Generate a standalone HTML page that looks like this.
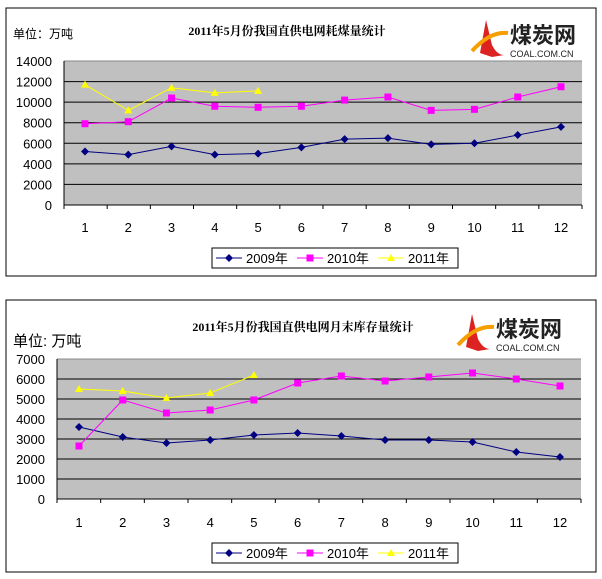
<!DOCTYPE html>
<html><head><meta charset="utf-8"><style>
body{margin:0;background:#fff;width:602px;height:579px;overflow:hidden}
svg{display:block;font-family:"Liberation Sans","Noto Sans CJK SC",sans-serif}
</style></head><body>
<svg id="s" width="602" height="579" xmlns="http://www.w3.org/2000/svg"></svg>
<script>
const S=document.getElementById('s');let h='';
function chart(o){
 const {oy,top,bot,left,right,x1,x12,max,step,d,title,tx,unit,ufs,uy,logo}=o;
 h+=`<rect x="6" y="${oy}" width="590" height="${o.ob-oy}" fill="#fff" stroke="#000"/>`;
 h+=`<rect x="${left}" y="${top}" width="${right-left}" height="${bot-top}" fill="#c0c0c0"/>`;
 const Y=v=>bot-(bot-top)*v/max, sp=(x12-x1)/11, X=i=>x1+sp*i;
 for(let v=0;v<=max;v+=step){const y=Y(v);
  if(v>0&&v<max)h+=`<line x1="${left}" x2="${right}" y1="${y}" y2="${y}" stroke="#000"/>`;
  h+=`<text x="${left-12}" y="${y+5}" font-size="13" text-anchor="end">${v}</text>`;}
 h+=`<line x1="${left}" x2="${right}" y1="${top}" y2="${top}" stroke="#888"/>`;
 h+=`<line x1="${left}" x2="${left}" y1="${top}" y2="${bot}" stroke="#000"/><line x1="${left}" x2="${right}" y1="${bot}" y2="${bot}" stroke="#000"/>`;
 for(let i=0;i<=12;i++){const x=left+(right-left)*i/12;h+=`<line x1="${x}" x2="${x}" y1="${bot}" y2="${bot+4}" stroke="#000"/>`;}
 for(let i=0;i<12;i++)h+=`<text x="${X(i)}" y="${o.ly}" font-size="13" text-anchor="middle">${i+1}</text>`;
 const cols=['#000080','#ff00ff','#ffff00'];
 d.forEach((s,k)=>{h+=`<polyline fill="none" stroke="${cols[k]}" stroke-width="1" points="${s.map((v,i)=>X(i)+','+Y(v)).join(' ')}"/>`;
  s.forEach((v,i)=>h+=mk(k,X(i),Y(v)));});
 function mk(k,x,y){if(k==0)return `<polygon points="${x},${y-4} ${x+4},${y} ${x},${y+4} ${x-4},${y}" fill="#000080"/>`;
  if(k==1)return `<rect x="${x-3.5}" y="${y-3.5}" width="7" height="7" fill="#ff00ff"/>`;
  return `<polygon points="${x},${y-4} ${x+4},${y+3} ${x-4},${y+3}" fill="#ffff00"/>`;}
 const ly=o.lgy;h+=`<rect x="212" y="${ly}" width="246" height="20" fill="#fff" stroke="#000"/>`;
 const lx=[216,297,378],ln=['2009年','2010年','2011年'];
 lx.forEach((x,k)=>{h+=`<line x1="${x}" x2="${x+26}" y1="${ly+10}" y2="${ly+10}" stroke="${cols[k]}"/>`+mk(k,x+13,ly+10)+`<text x="${x+30}" y="${ly+15}" font-size="13">${ln[k]}</text>`;});
 h+=`<text x="${tx}" y="${o.ty}" font-size="12" font-weight="bold" text-anchor="middle" font-family="Liberation Serif,Noto Serif CJK SC,serif">${title}</text>`;
 h+=`<text x="13" y="${uy}" font-size="${ufs}">${unit}</text>`;
 const [gx,gy]=logo;
 h+=`<path d="M${gx+8},${gy+38} L${gx+14},${gy+5} L${gx+20},${gy+30} Q${gx+25},${gy+40} ${gx+32},${gy+40} L${gx+20},${gy+42} Z" fill="#d22"/><path d="M${gx},${gy+36} Q${gx+18},${gy+16} ${gx+36},${gy+18}" stroke="#f5a000" stroke-width="4" fill="none"/>`;
 h+=`<text x="${gx+38}" y="${gy+28}" font-size="22" font-weight="bold" fill="#222">煤炭网</text><text x="${gx+38}" y="${gy+42}" font-size="9" fill="#222">COAL.COM.CN</text>`;
}
chart({oy:8,ob:276,top:61,bot:205,left:64,right:582,x1:85,x12:561,max:14000,step:2000,ly:232,lgy:248,tx:287,ty:35,title:'2011年5月份我国直供电网耗煤量统计',unit:'单位：万吨',ufs:12,uy:38,logo:[472,15],
 d:[[5200,4900,5700,4900,5000,5600,6400,6500,5900,6000,6800,7600],[7900,8100,10400,9600,9500,9600,10200,10500,9200,9300,10500,11500],[11700,9200,11400,10900,11100]]});
chart({oy:300,ob:572,top:359,bot:499,left:57,right:581,x1:79,x12:560,max:7000,step:1000,ly:527,lgy:543,tx:303,ty:331,title:'2011年5月份我国直供电网月末库存量统计',unit:'单位:  万吨',ufs:15,uy:346,logo:[458,309],
 d:[[3600,3100,2800,2950,3200,3300,3150,2950,2950,2850,2350,2100],[2650,4950,4300,4450,4950,5800,6150,5900,6100,6300,6000,5650],[5500,5400,5050,5300,6200]]});
S.innerHTML=h;
</script>
</body></html>
